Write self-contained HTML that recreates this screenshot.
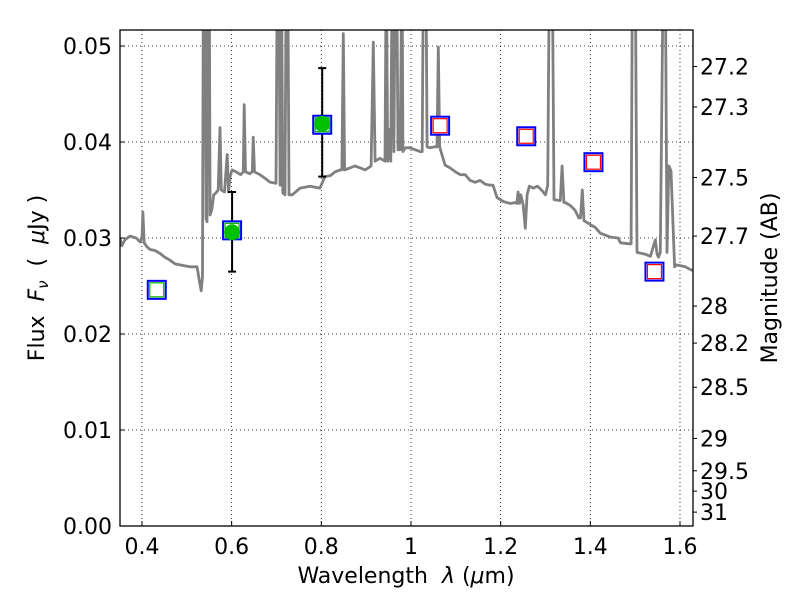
<!DOCTYPE html>
<html><head><meta charset="utf-8"><style>
html,body{margin:0;padding:0;background:#fff;}
svg text{font-family:"DejaVu Sans","Liberation Sans",sans-serif;fill:#000;}
</style></head><body>
<svg id="chart" width="800" height="600" viewBox="0 0 800 600" xmlns="http://www.w3.org/2000/svg">
<defs><clipPath id="plotclip"><rect x="120" y="30" width="573" height="496"/></clipPath></defs>
<rect x="0" y="0" width="800" height="600" fill="#fff"/>
<g id="grid"></g>
<g id="spectrum" clip-path="url(#plotclip)"></g>
<g id="points"></g>
<rect x="120" y="30" width="573" height="496" fill="none" stroke="#000" stroke-width="1.3"/>
<g id="axes"></g>
<text x="406" y="583" font-size="22" text-anchor="middle">Wavelength&#160;&#160;<tspan font-style="italic">λ</tspan> (<tspan font-style="italic">μ</tspan>m)</text>
<text transform="translate(44,278) rotate(-90)" font-size="22" text-anchor="middle">Flux&#160;&#160;<tspan font-style="italic">F</tspan><tspan font-style="italic" font-size="15" dy="4">ν</tspan><tspan dy="-4">&#160;&#160;(&#160;&#160;</tspan><tspan font-style="italic">μ</tspan>Jy )</text>
<text transform="translate(777,278) rotate(-90)" font-size="22" text-anchor="middle">Magnitude (AB)</text>
</svg>
<script>
const xTicks=[0.4,0.6,0.8,1.0,1.2,1.4,1.6];
const xTickLabels=["0.4","0.6","0.8","1","1.2","1.4","1.6"];
const yTicks=[0,0.01,0.02,0.03,0.04,0.05];
const yTickLabels=["0.00","0.01","0.02","0.03","0.04","0.05"];
const magTicks=[27.2,27.3,27.5,27.7,28,28.2,28.5,29,29.5,30,31];
const magTickLabels=["27.2","27.3","27.5","27.7","28","28.2","28.5","29","29.5","30","31"];
const specWave=[0.351,0.355,0.362,0.373,0.387,0.396,0.400,0.402,0.405,0.411,0.418,0.429,0.440,0.451,0.462,0.474,0.485,0.496,0.507,0.523,0.528,0.532,0.535,0.537,0.540,0.543,0.545,0.547,0.550,0.552,0.556,0.560,0.565,0.570,0.574,0.577,0.584,0.590,0.593,0.597,0.601,0.610,0.620,0.626,0.628,0.631,0.640,0.646,0.648,0.651,0.663,0.675,0.686,0.699,0.702,0.705,0.708,0.711,0.714,0.719,0.722,0.725,0.728,0.735,0.753,0.775,0.797,0.808,0.820,0.831,0.842,0.846,0.849,0.852,0.864,0.875,0.887,0.898,0.911,0.916,0.920,0.931,0.942,0.945,0.948,0.951,0.955,0.958,0.962,0.965,0.968,0.971,0.976,0.980,0.982,0.987,0.998,1.020,1.025,1.028,1.033,1.036,1.041,1.054,1.058,1.061,1.064,1.067,1.076,1.087,1.099,1.110,1.121,1.132,1.143,1.154,1.166,1.177,1.183,1.192,1.206,1.221,1.233,1.236,1.239,1.242,1.245,1.250,1.255,1.259,1.264,1.273,1.282,1.291,1.300,1.305,1.309,1.315,1.319,1.333,1.337,1.341,1.344,1.355,1.366,1.374,1.378,1.382,1.386,1.400,1.411,1.422,1.445,1.462,1.467,1.487,1.491,1.494,1.500,1.504,1.523,1.534,1.545,1.549,1.552,1.556,1.563,1.567,1.571,1.575,1.580,1.588,1.592,1.612,1.628];
const specFlux=[0.0300,0.0292,0.0298,0.0302,0.0300,0.0296,0.0300,0.0327,0.0295,0.0291,0.0288,0.0287,0.0284,0.0280,0.0277,0.0273,0.0272,0.0271,0.0270,0.0270,0.0255,0.0245,0.0260,0.060,0.060,0.0320,0.0317,0.060,0.060,0.0324,0.0330,0.0345,0.0347,0.0350,0.0415,0.0350,0.0348,0.0387,0.0348,0.0365,0.0371,0.0369,0.0366,0.0369,0.0439,0.0369,0.0367,0.0369,0.0405,0.0369,0.0366,0.0362,0.0358,0.0357,0.060,0.060,0.0355,0.060,0.0347,0.0345,0.060,0.060,0.0345,0.0345,0.0352,0.0354,0.0352,0.0364,0.0365,0.0369,0.0371,0.0371,0.0513,0.0371,0.0373,0.0375,0.0373,0.0371,0.0375,0.0504,0.0380,0.0383,0.0380,0.060,0.0380,0.0413,0.0380,0.060,0.0390,0.060,0.060,0.0392,0.0392,0.060,0.0390,0.0394,0.0394,0.0390,0.0390,0.060,0.060,0.0395,0.0394,0.0395,0.0395,0.0499,0.0395,0.0390,0.0376,0.0373,0.0369,0.0366,0.0366,0.0360,0.0358,0.0360,0.0356,0.0355,0.0355,0.0342,0.0338,0.0336,0.0337,0.0336,0.0348,0.0336,0.0345,0.0335,0.0310,0.0345,0.0354,0.0352,0.0354,0.0350,0.0345,0.0355,0.060,0.060,0.0340,0.0339,0.0375,0.0337,0.0337,0.0334,0.0329,0.0321,0.0321,0.0350,0.0318,0.0314,0.0311,0.0305,0.0301,0.0300,0.0295,0.0294,0.0294,0.060,0.060,0.0285,0.0283,0.0281,0.0298,0.0283,0.0280,0.0285,0.060,0.060,0.0285,0.0375,0.0370,0.0270,0.0272,0.0270,0.0266];
const photWave=[0.433,0.601,0.802,1.065,1.257,1.407,1.543];
const photModel=[0.0246,0.0308,0.0418,0.0417,0.0406,0.0379,0.0265];
const obsWave=[0.601,0.802];
const obsFlux=[0.0306,0.0419];
const obsErrLow=[0.0265,0.0364];
const obsErrHigh=[0.0348,0.0477];
const innerColor=["#00b000","#00b000","#00b000","#ff0000","#ff0000","#ff0000","#ff0000"];

const X0=120,X1=693,Y0=526,Y1=30;
const xMin=0.351,xMax=1.629,yMin=0,yMax=0.05167;
function sx(v){return X0+(v-xMin)/(xMax-xMin)*(X1-X0);}
function sy(v){return Y0-(v-yMin)/(yMax-yMin)*(Y0-Y1);}
function magToFlux(m){return Math.pow(10,(23.9-m)/2.5);}
const NS="http://www.w3.org/2000/svg";
function mk(tag,attrs,parent){const e=document.createElementNS(NS,tag);for(const k in attrs)e.setAttribute(k,attrs[k]);parent.appendChild(e);return e;}
const grid=document.getElementById('grid'),axes=document.getElementById('axes');
xTicks.forEach((t,i)=>{
  const x=sx(t);
  const g=mk('line',{x1:x,x2:x,y1:Y1,y2:Y0,stroke:'#000','stroke-width':0.8,'stroke-dasharray':'1,3'},grid);
  
  
  const tk=mk('line',{x1:x,x2:x,y1:Y0,y2:Y0-5,stroke:'#000','stroke-width':1},axes);
  
  
  const tx=mk('text',{x:x,y:Y0+28,'font-size':22,'text-anchor':'middle'},axes);
  tx.textContent=xTickLabels[i];
  
  
});
yTicks.forEach((t,i)=>{
  const y=sy(t);
  if(t>0){const g=mk('line',{x1:X0,x2:X1,y1:y,y2:y,stroke:'#000','stroke-width':0.8,'stroke-dasharray':'1,3'},grid);
  
  }
  const tk=mk('line',{x1:X0,x2:X0+5,y1:y,y2:y,stroke:'#000','stroke-width':1},axes);
  
  
  const tx=mk('text',{x:X0-8,y:y+8,'font-size':22,'text-anchor':'end'},axes);
  tx.textContent=yTickLabels[i];
  
  
});
magTicks.forEach((m,i)=>{
  const y=sy(magToFlux(m));
  const tk=mk('line',{x1:X1,x2:X1+4,y1:y,y2:y,stroke:'#000','stroke-width':1},axes);
  
  
  const tx=mk('text',{x:X1+7,y:y+8,'font-size':22},axes);
  tx.textContent=magTickLabels[i];
  
  
});
const spec=document.getElementById('spectrum');
let d='';specWave.forEach((w,i)=>{d+=(i?'L':'M')+sx(w).toFixed(1)+','+sy(specFlux[i]).toFixed(1);});
const p=mk('path',{d:d,fill:'none',stroke:'#808080','stroke-width':2.8,'stroke-linejoin':'round'},spec);


const pts=document.getElementById('points');
obsWave.forEach((w,i)=>{
  const x=sx(w),yl=sy(obsErrLow[i]),yh=sy(obsErrHigh[i]);
  const e=mk('path',{d:`M${x},${yl}L${x},${yh}M${x-4},${yl}L${x+4},${yl}M${x-4},${yh}L${x+4},${yh}`,stroke:'#000','stroke-width':2,fill:'none'},pts);
  
  
});
photWave.forEach((w,i)=>{
  const x=sx(w),y=sy(photModel[i]);
  const b=mk('rect',{x:x-9,y:y-9,width:18,height:18,fill:'#fff',stroke:'#0000ff','stroke-width':2},pts);
  
  
  const r=mk('rect',{x:x-7,y:y-7,width:14,height:14,fill:'none',stroke:innerColor[i],'stroke-width':1.2},pts);
  
  
});
obsWave.forEach((w,i)=>{
  const x=sx(w),y=sy(obsFlux[i]);
  const c=mk('circle',{cx:x,cy:y,r:8,fill:'#00c000',stroke:'none'},pts);
  
  
});
</script>
</body></html>
